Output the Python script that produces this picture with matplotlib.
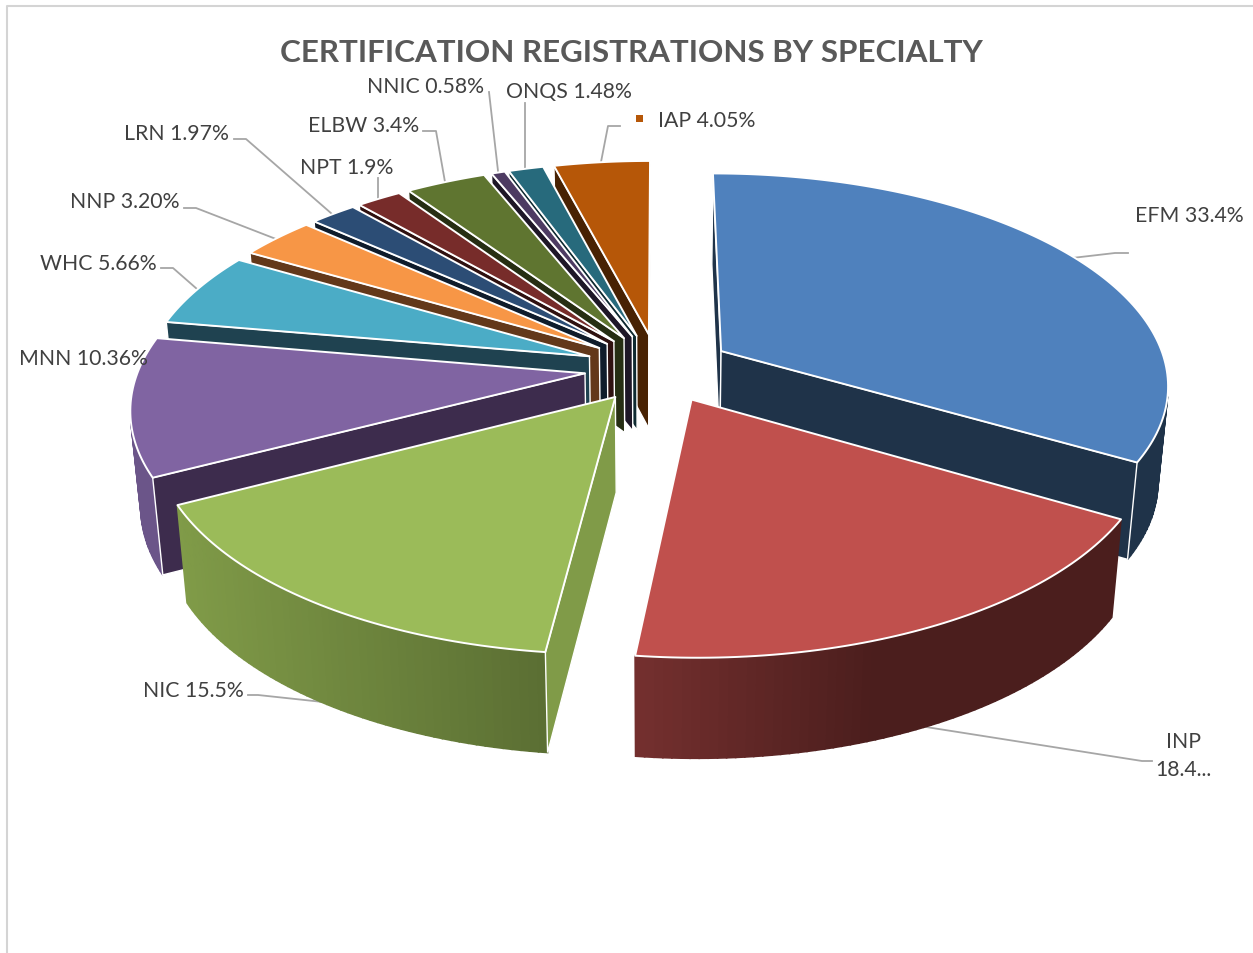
import numpy as np
import matplotlib
matplotlib.use("Agg")
import matplotlib.pyplot as plt
from matplotlib.colors import to_rgb
from matplotlib.patches import Polygon, Rectangle

plt.rcParams["font.family"] = ["Lato", "DejaVu Sans"]

# the data, clockwise from 12 o'clock
categories = ["EFM", "INP", "NIC", "MNN", "WHC", "NNP", "LRN", "NPT", "ELBW", "NNIC", "ONQS", "IAP"]
values = [33.4, 18.4, 15.5, 10.36, 5.66, 3.20, 1.97, 1.9, 3.4, 0.58, 1.48, 4.05]
value_text = ["33.4%", "18.4...", "15.5%", "10.36%", "5.66%", "3.20%", "1.97%", "1.9%", "3.4%", "0.58%", "1.48%", "4.05%"]

top_colors = ["#4f81bd", "#c0504d", "#9bbb59", "#8064a2", "#4bacc6", "#f79646",
              "#2c4d75", "#772c2a", "#5f7530", "#4d3b62", "#276a7c", "#b65708"]
cut_colors = ["#1f3349", "#4d1f1e", "#809b48", "#3d2c4d", "#1f4250", "#63381a",
              "#0f1c2b", "#2f1110", "#262e13", "#1e1727", "#0f2a31", "#482203"]
side_left = ["#1f3349", "#75302f", "#809b48", "#6b5589", "#1f4250", "#63381a",
             "#0f1c2b", "#2f1110", "#262e13", "#1e1727", "#0f2a31", "#482203"]
side_right = ["#1f3349", "#4b1e1d", "#5b6f33", "#6b5589", "#1f4250", "#63381a",
              "#0f1c2b", "#2f1110", "#262e13", "#1e1727", "#0f2a31", "#482203"]

# label layout in pixels: (x, y, ha)
label_pos = {
    "EFM": (1135, 216, "left"), "INP": (1183, 756, "center"), "NIC": (244, 691, "right"),
    "MNN": (148, 359, "right"), "WHC": (157, 264, "right"), "NNP": (180, 202, "right"),
    "LRN": (229, 134, "right"), "NPT": (393, 168, "right"), "ELBW": (419, 126, "right"),
    "NNIC": (484, 87, "right"), "ONQS": (632, 92, "right"), "IAP": (658, 121, "left"),
}
leaders = [
    [(1128, 254), (1115, 254), (1072, 259)],
    [(1152, 762), (1142, 762), (926, 728)],
    [(248, 696), (258, 696), (323, 703)],
    [(161, 269), (173, 269), (197, 290)],
    [(184, 209), (196, 209), (276, 240)],
    [(234, 140), (246, 140), (332, 215)],
    [(378, 179), (378, 200)],
    [(423, 132), (436, 132), (445, 183)],
    [(489, 93), (498, 172)],
    [(525, 104), (525, 169)],
    [(620, 127), (608, 127), (601, 163)],
]

# pie geometry
CX, CY = 658, 369
RX, RY = 446, 209
PERSP = 0.15
DEPTH = 95
EXPLODE = 0.165


def project(u, v, z=0.0):
    # flat disc coords to screen, with a bit of perspective; z=1 is the underside
    w = 1 + PERSP * v
    sx = CX + RX * u / w * (1 - 0.02 * z)
    sy = CY - RY * v / w + DEPTH * z / w ** 0.3
    return sx, sy


def area(pts):
    x, y = np.array(pts).T
    return 0.5 * np.sum(x * np.roll(y, -1) - np.roll(x, -1) * y)


def lerp(c1, c2, t):
    return tuple(a + (b - a) * t for a, b in zip(to_rgb(c1), to_rgb(c2)))


fig = plt.figure(figsize=(12.53, 9.54), dpi=100)
ax = fig.add_axes([0, 0, 1, 1])
ax.set_xlim(0, 1253)
ax.set_ylim(954, 0)
ax.axis("off")

# chart frame, only the top and left edges are in the crop
ax.plot([7, 7, 1253], [954, 6.5, 6.5], color="#d4d4d4", lw=1.5, zorder=1)

for pts in leaders:
    xs, ys = zip(*pts)
    ax.plot(xs, ys, color="#a6a6a6", lw=1.3, zorder=2)

fracs = np.array(values) / sum(values) * 2 * np.pi
ends = np.cumsum(fracs)
starts = ends - fracs
mids = (starts + ends) / 2

# painter's order, back slices first
order = sorted(range(len(values)), key=lambda i: -np.cos(mids[i]))
z = 3
for i in order:
    ou, ov = EXPLODE * np.sin(mids[i]), EXPLODE * np.cos(mids[i])
    th = np.linspace(starts[i], ends[i], max(3, int(np.degrees(fracs[i])) + 2))
    us, vs = ou + np.sin(th), ov + np.cos(th)
    top = [project(a, b) for a, b in zip(us, vs)]
    bottom = [project(a, b, 1) for a, b in zip(us, vs)]
    apex_top, apex_bot = project(ou, ov), project(ou, ov, 1)

    # outer wall as thin strips so the shading can run left to right
    xs = [p[0] for p in top]
    x0, x1 = min(xs), max(xs)
    span = 0.5 if categories[i] == "INP" else 1.0
    for k in range(len(th) - 1):
        quad = [top[k], top[k + 1], bottom[k + 1], bottom[k]]
        if area(quad) >= 0:
            continue
        t = min(1, (top[k][0] - x0) / max(x1 - x0, 1) / span)
        col = lerp(side_left[i], side_right[i], t)
        ax.add_patch(Polygon(quad, closed=True, fc=col, ec=col, lw=1.2, zorder=z))
        z += 0.001
    z += 1

    # flat cut faces, skip the ones turned away from the viewer
    start_face = [apex_top, top[0], bottom[0], apex_bot]
    end_face = [apex_top, top[-1], bottom[-1], apex_bot]
    if area(start_face) < 0:
        ax.add_patch(Polygon(start_face, closed=True, fc=cut_colors[i], ec="white", lw=1.0, zorder=z))
    if area(end_face) > 0:
        ax.add_patch(Polygon(end_face, closed=True, fc=cut_colors[i], ec="white", lw=1.0, zorder=z))
    z += 1

    ax.add_patch(Polygon([apex_top] + top, closed=True, fc=top_colors[i], ec="white", lw=1.4,
                         joinstyle="round", zorder=z))
    z += 1

for cat, txt in zip(categories, value_text):
    x, y, ha = label_pos[cat]
    s = f"{cat}\n{txt}" if cat == "INP" else f"{cat} {txt}"
    ax.text(x, y, s, ha=ha, va="center", fontsize=15.3, color="#404040", linespacing=1.5, zorder=z + 1)

# legend key next to the IAP label
ax.add_patch(Rectangle((635.5, 115.5), 7, 7, fc=top_colors[-1], ec="none", zorder=z + 1))

ax.text(631, 52.5, "CERTIFICATION REGISTRATIONS BY SPECIALTY", ha="center", va="center",
        fontsize=22.6, fontweight="bold", color="#595959", zorder=z + 1)

fig.savefig("out.png", dpi=100)
